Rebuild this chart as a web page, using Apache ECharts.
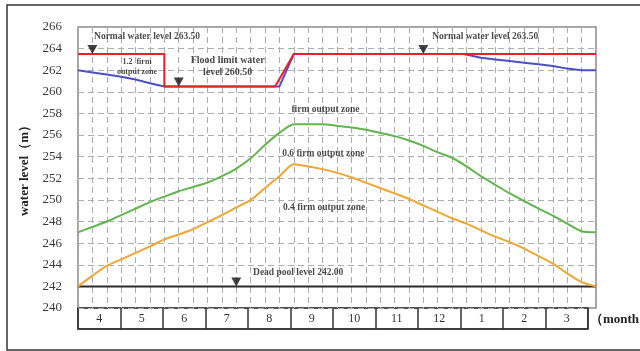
<!DOCTYPE html>
<html>
<head>
<meta charset="utf-8">
<script src="https://cdn.jsdelivr.net/npm/echarts@6/dist/echarts.min.js"></script>
<style>
  html, body { margin: 0; padding: 0; background: #fff; }
  #chart { width: 640px; height: 351px; }
</style>
</head>
<body>
<div id="chart"></div>
<script>
// Reservoir operation diagram: water level by ten-day period (April to March).
const months = ['4', '5', '6', '7', '8', '9', '10', '11', '12', '1', '2', '3'];
const yTicks = { min: 240, max: 266, step: 2 };
const periodCount = 36; // three ten-day periods per month

// Upper boundary: normal water level / flood limit water level
const normalLevelLine = [[0, 263.5], [6, 263.5], [6, 260.5], [13.7, 260.5], [15, 263.5], [36, 263.5]];
// Lower edge of the 1.2 firm output zone
const upperDispatchLine = [
  [0, 262.0], [1, 261.8], [2, 261.6], [3, 261.4], [4, 261.15], [5, 260.8], [6, 260.5],
  [14, 260.5], [15, 263.5], [26.8, 263.5], [28, 263.15], [29, 263.0], [30, 262.85],
  [31, 262.7], [32, 262.55], [33, 262.4], [34, 262.15], [35, 262.0], [36, 262.0]
];
// Firm output line, one value per ten-day period boundary (0..36)
const firmOutputLine = [
  247.0, 247.5, 248.0, 248.6, 249.2, 249.8, 250.3, 250.8, 251.2, 251.6, 252.2, 252.9,
  253.85, 255.1, 256.2, 257.0, 257.0, 257.0, 256.85, 256.7, 256.5, 256.2, 255.9, 255.5,
  255.0, 254.4, 253.9, 253.1, 252.2, 251.4, 250.6, 249.9, 249.2, 248.55, 247.8, 247.1, 247.0
];
// 0.6 firm output line
const reducedOutputLine = [
  242.0, 243.0, 243.9, 244.5, 245.1, 245.7, 246.35, 246.8, 247.3, 247.95, 248.6, 249.3,
  250.0, 251.1, 252.2, 253.3, 253.1, 252.85, 252.5, 252.1, 251.6, 251.1, 250.6, 250.1,
  249.5, 248.9, 248.3, 247.8, 247.2, 246.6, 246.1, 245.5, 244.8, 244.1, 243.2, 242.4, 242.0
];
const deadPoolLevel = 242.0;

// Level markers (period, level)
const levelMarkers = [[1, 263.5], [7, 260.5], [24, 263.5], [11, 242.0]];

// Zone and level annotations (period, level, text)
const notes = [
  { at: [4.8, 265.1], text: 'Normal water level 263.50', size: 9.5 },
  { at: [4.1, 262.3], text: '1.2  firm\noutput zone', size: 8 },
  { at: [10.4, 262.35], text: 'Flood limit water\nlevel 260.50', size: 10 },
  { at: [28.3, 265.1], text: 'Normal water level 263.50', size: 9.5 },
  { at: [17.2, 258.4], text: 'firm output zone', size: 9.5 },
  { at: [17.05, 254.3], text: '0.6 firm output zone', size: 9.5 },
  { at: [17.1, 249.3], text: '0.4 firm output zone', size: 9.5 },
  { at: [15.3, 243.3], text: 'Dead pool level 242.00', size: 9.5 }
];

const serif = '"Liberation Serif", "Times New Roman", serif';
const periods = Array.from({ length: periodCount + 1 }, (_, i) => i);
const toPairs = arr => arr.map((v, i) => [periods[i], v]);

const chart = echarts.init(document.getElementById('chart'), null, { renderer: 'canvas' });

const dashed = { color: '#adadad', type: [6, 4], width: 1 };

chart.setOption({
  animation: false,
  backgroundColor: '#fff',
  graphic: [{
    type: 'rect', shape: { x: 7, y: 5, width: 700, height: 345 },
    style: { fill: 'none', stroke: '#333', lineWidth: 1.5 }, silent: true
  }],
  grid: [
    { left: 78, right: 44, top: 27, height: 281, show: true, borderColor: '#888', borderWidth: 1.5 },
    { left: 78, right: 44, top: 308, height: 21, show: true, borderColor: '#333', borderWidth: 1.5 }
  ],
  xAxis: [
    {
      type: 'value', gridIndex: 0, min: 0, max: periodCount, interval: 1,
      axisLine: { show: false }, axisTick: { show: false }, axisLabel: { show: false },
      splitLine: { show: true, lineStyle: dashed }
    },
    {
      type: 'category', gridIndex: 1, data: months, boundaryGap: true,
      axisLine: { lineStyle: { color: '#333', width: 1.5 } },
      axisTick: { show: true, inside: true, length: 21, interval: 0, lineStyle: { color: '#333', width: 1.5 } },
      axisLabel: { inside: true, margin: 4, interval: 0, fontFamily: serif, fontSize: 12, color: '#333' },
      splitLine: { show: false },
      name: '（month', nameLocation: 'end', nameGap: 2,
      nameTextStyle: { fontFamily: serif, fontWeight: 'bold', fontSize: 13, color: '#222', verticalAlign: 'bottom', padding: [0, 0, 3, 0] }
    }
  ],
  yAxis: [
    {
      type: 'value', gridIndex: 0, min: yTicks.min, max: yTicks.max, interval: yTicks.step,
      axisLine: { show: false }, axisTick: { show: false },
      axisLabel: { margin: 16, fontFamily: serif, fontSize: 13, color: '#3a3a3a' },
      splitLine: { show: true, lineStyle: dashed },
      name: 'water level（m）', nameLocation: 'middle', nameGap: 44,
      nameTextStyle: { fontFamily: serif, fontWeight: 'bold', fontSize: 13, color: '#222' }
    },
    { type: 'value', gridIndex: 1, show: false, min: 0, max: 1 }
  ],
  series: [
    {
      name: 'dead pool', type: 'line', xAxisIndex: 0, yAxisIndex: 0, symbol: 'none',
      data: [[0, deadPoolLevel], [periodCount, deadPoolLevel]],
      lineStyle: { color: '#2a2a2a', width: 2 }, z: 3
    },
    {
      name: '0.6 firm', type: 'line', xAxisIndex: 0, yAxisIndex: 0, symbol: 'none', smooth: 0.25,
      data: toPairs(reducedOutputLine), lineStyle: { color: '#f2a531', width: 2 }, z: 3
    },
    {
      name: 'firm', type: 'line', xAxisIndex: 0, yAxisIndex: 0, symbol: 'none', smooth: 0.25,
      data: toPairs(firmOutputLine), lineStyle: { color: '#62b44f', width: 2 }, z: 3
    },
    {
      name: 'upper dispatch', type: 'line', xAxisIndex: 0, yAxisIndex: 0, symbol: 'none',
      data: upperDispatchLine, lineStyle: { color: '#4c4fc6', width: 2 }, z: 3
    },
    {
      name: 'normal level', type: 'line', xAxisIndex: 0, yAxisIndex: 0, symbol: 'none',
      data: normalLevelLine, lineStyle: { color: '#e8202e', width: 2 }, z: 4
    },
    {
      name: 'markers', type: 'scatter', xAxisIndex: 0, yAxisIndex: 0,
      symbol: 'path://M0,0L10,0L5,9Z', symbolSize: [10, 9], symbolOffset: [0, '-50%'],
      itemStyle: { color: '#111' }, data: levelMarkers, z: 5
    },
    {
      name: 'notes', type: 'scatter', xAxisIndex: 0, yAxisIndex: 0, symbolSize: 0, z: 6,
      data: notes.map(n => ({
        value: n.at, name: n.text,
        label: { fontSize: n.size, lineHeight: n.size + 2 }
      })),
      label: {
        show: true, position: 'inside', formatter: p => p.name,
        fontFamily: serif, fontWeight: 'bold', color: '#1a1a1a', align: 'center'
      }
    }
  ]
});
</script>
</body>
</html>
